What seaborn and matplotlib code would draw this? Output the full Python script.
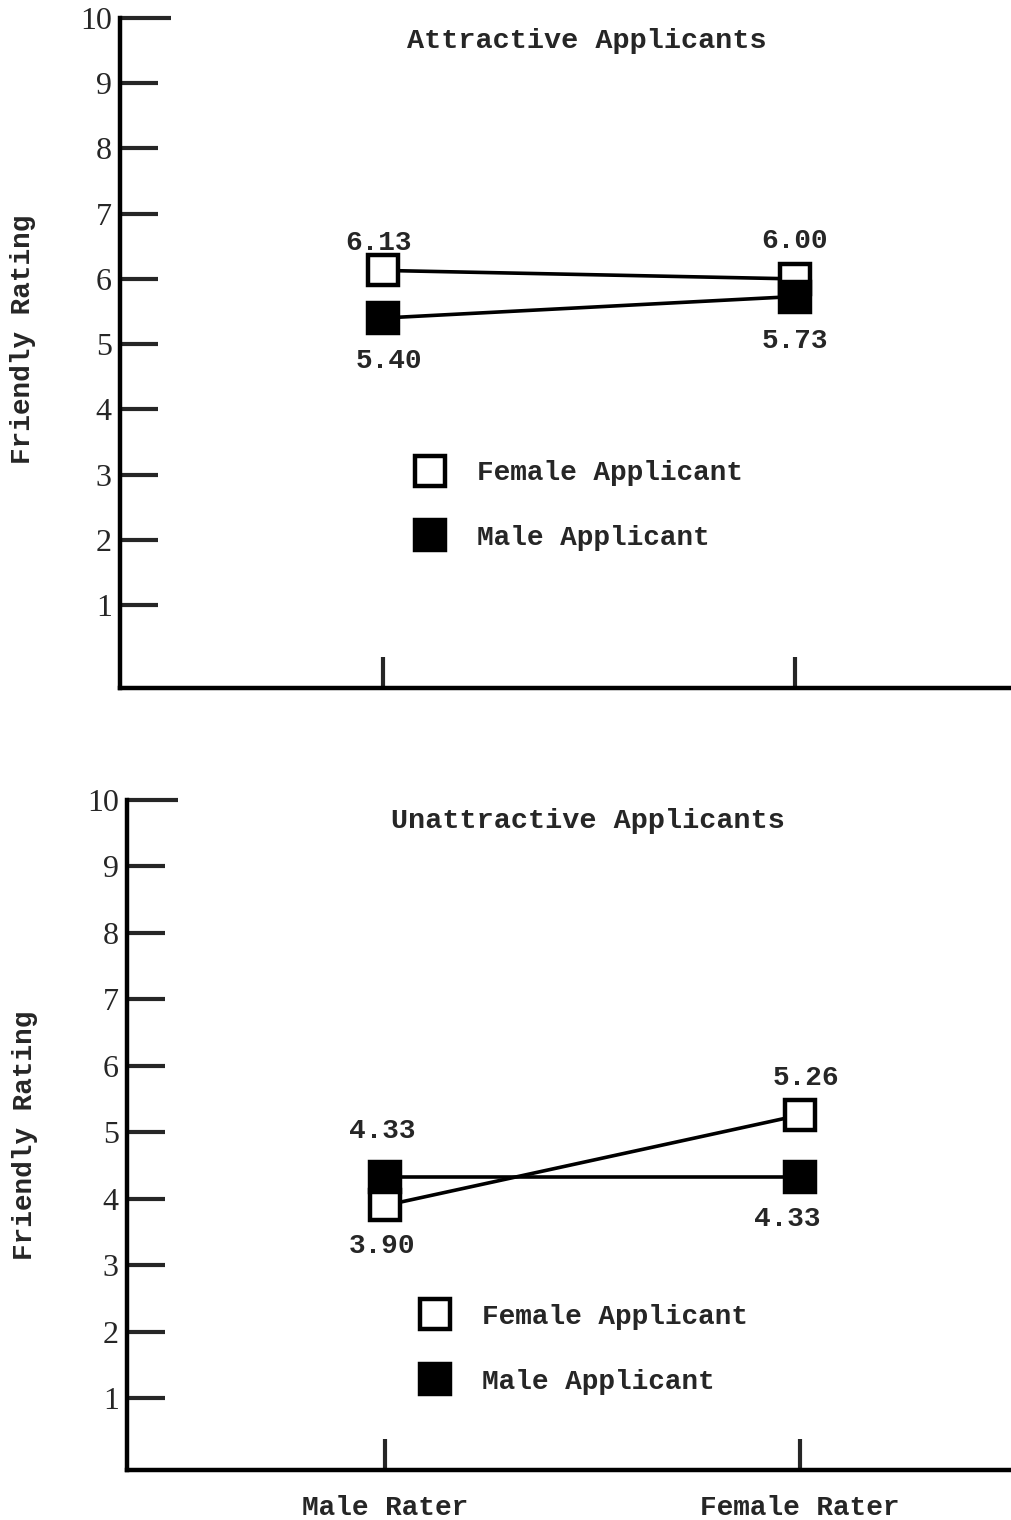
import matplotlib
matplotlib.use('Agg')
import matplotlib.pyplot as plt
from matplotlib.lines import Line2D
import seaborn as sns
import pandas as pd

# data
raters = ['Male Rater', 'Female Rater']
attr_female = [6.13, 6.00]
attr_male = [5.40, 5.73]
unattr_female = [3.90, 5.26]
unattr_male = [4.33, 4.33]
yticks = list(range(1, 11))

sns.set_style('white')
mono = 'Liberation Mono'
serif = 'Liberation Serif'
plt.rcParams['font.family'] = [mono, 'DejaVu Sans Mono']
plt.rcParams['font.weight'] = 'bold'

fig = plt.figure(figsize=(10.11, 15.2), dpi=100)
ax_top = fig.add_axes([0.1187, 0.5474, 0.8803, 0.4408])
ax_bot = fig.add_axes([0.1256, 0.0329, 0.8744, 0.4408])

panels = [
    (ax_top, 'Attractive Applicants', attr_female, attr_male,
     (-0.638, 1.522), -0.27, (0.525, 0.966), (0.331, 0.272), (-0.094, 0.52),
     [(-3, 20), (0, 27)], [(4, -31), (0, -32)]),
    (ax_bot, 'Unattractive Applicants', unattr_female, unattr_male,
     (-0.622, 1.508), -0.08, (0.521, 0.969), (0.331, 0.18), (-0.101, 0.50),
     [(-2, -29), (4, 27)], [(-2, 33), (-9, -30)]),
]

for (ax, title, fem, mal, xlim, ybot, tpos, lpos, ylab_pos,
     fem_off, mal_off) in panels:
    df = pd.DataFrame({'x': [0, 1, 0, 1],
                       'rating': fem + mal,
                       'applicant': ['Female Applicant'] * 2 + ['Male Applicant'] * 2})
    for name, face in [('Female Applicant', 'white'), ('Male Applicant', 'black')]:
        sub = df[df['applicant'] == name]
        sns.lineplot(data=sub, x='x', y='rating', ax=ax, color='black', lw=2.6,
                     marker='s', markersize=22, markerfacecolor=face,
                     markeredgecolor='black', markeredgewidth=3.2, legend=False,
                     zorder=3)

    for vals, offs in [(fem, fem_off), (mal, mal_off)]:
        for i, (v, off) in enumerate(zip(vals, offs)):
            ax.annotate(f'{v:.2f}', (i, v), xytext=off, textcoords='offset points',
                        ha='center', va='center', fontsize=20, family=mono)

    ax.set_xlim(*xlim)
    ax.set_ylim(ybot, 10)
    ax.set_yticks(yticks)
    ax.set_yticklabels([str(t) for t in yticks], family=serif, fontsize=23,
                       fontweight='normal')
    ax.set_xticks([0, 1])
    ax.tick_params(axis='y', direction='in', length=27, width=3, pad=6, left=True)
    ax.tick_params(axis='x', direction='in', length=22, width=3, pad=18, bottom=True)
    ax.yaxis.get_major_ticks()[-1].tick1line.set_markersize(37)

    for s in ['top', 'right']:
        ax.spines[s].set_visible(False)
    for s in ['left', 'bottom']:
        ax.spines[s].set_linewidth(3.2)
        ax.spines[s].set_color('black')

    ax.set_xlabel('')
    ax.set_ylabel('Friendly Rating', fontsize=20, family=mono, fontweight='bold')
    ax.yaxis.set_label_coords(*ylab_pos)
    ax.text(tpos[0], tpos[1], title, transform=ax.transAxes, ha='center',
            va='center', fontsize=20.5, family=mono)

    handles = [Line2D([], [], ls='none', marker='s', markersize=22,
                      markerfacecolor='white', markeredgecolor='black', markeredgewidth=3.2),
               Line2D([], [], ls='none', marker='s', markersize=22,
                      markerfacecolor='black', markeredgecolor='black', markeredgewidth=3.2)]
    ax.legend(handles, ['Female Applicant', 'Male Applicant'], loc='center left',
              bbox_to_anchor=lpos, frameon=False, borderpad=0, borderaxespad=0,
              handlelength=1.1, handletextpad=1.15, labelspacing=1.4,
              prop={'family': mono, 'size': 20, 'weight': 'bold'})

ax_top.set_xticklabels([])
ax_bot.set_xticklabels(raters, family=mono, fontsize=20)

fig.savefig('out.png', dpi=100, facecolor='white')
